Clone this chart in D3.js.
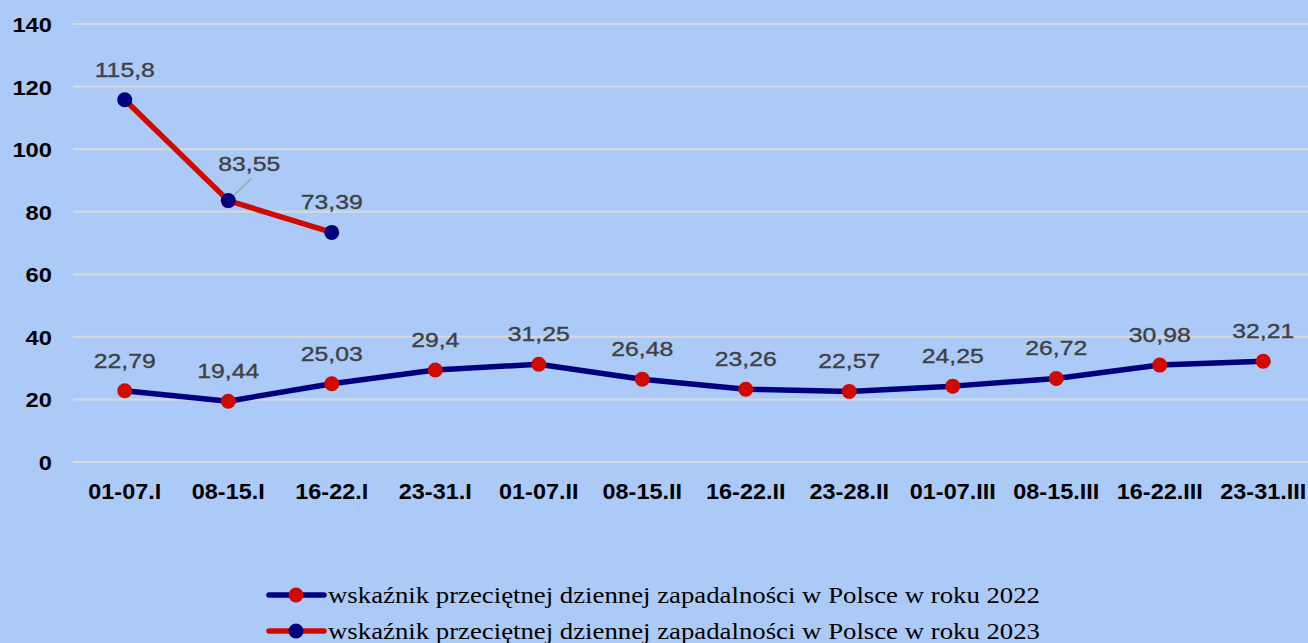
<!DOCTYPE html>
<html>
<head>
<meta charset="utf-8">
<script src="https://cdn.jsdelivr.net/npm/d3@7"></script>
<style>
  html, body { margin: 0; padding: 0; background: #abcaf7; }
  svg { display: block; }
</style>
</head>
<body>
<svg id="chart" width="1308" height="643"></svg>
<script>
// weeks of Q1
var weeks = ["01-07.I", "08-15.I", "16-22.I", "23-31.I", "01-07.II", "08-15.II",
             "16-22.II", "23-28.II", "01-07.III", "08-15.III", "16-22.III", "23-31.III"];
var rate2022 = [22.79, 19.44, 25.03, 29.4, 31.25, 26.48, 23.26, 22.57, 24.25, 26.72, 30.98, 32.21];
var rate2023 = [115.8, 83.55, 73.39];
var yTicks = [0, 20, 40, 60, 80, 100, 120, 140];
var legendNames = [
   "wskaźnik przeciętnej dziennej zapadalności w Polsce w roku 2022",
   "wskaźnik przeciętnej dziennej zapadalności w Polsce w roku 2023"
];

var navy = "#00007f", red = "#d10a00";

var svg = d3.select("#chart");

var x = d3.scaleBand().domain(weeks).range([73, 1315]);
var y = d3.scaleLinear().domain([0, 140]).range([462, 24]);
var cx = function(i) { return x(weeks[i]) + x.bandwidth() / 2; };

// gridlines
svg.append("g").selectAll("line")
   .data(yTicks)
   .join("line")
   .attr("x1", 73).attr("x2", 1308)
   .attr("y1", function(d) { return y(d); })
   .attr("y2", function(d) { return y(d); })
   .attr("stroke", "#d9d9d9")
   .attr("stroke-width", 2);

// y axis labels (no axis line)
var yAxis = svg.append("g").attr("transform", "translate(52,0)")
   .call(d3.axisLeft(y).tickValues(yTicks).tickSize(0).tickPadding(0));
yAxis.select(".domain").remove();
yAxis.selectAll("text")
   .attr("x", 0)
   .attr("font-family", "Liberation Sans, Arial, sans-serif")
   .attr("font-weight", "bold")
   .attr("font-size", 21)
   .attr("fill", "#000")
   .attr("dy", "0.36em")
   .attr("transform", "scale(1.13,1)");

// x axis labels
var xAxis = svg.append("g").attr("transform", "translate(0,484)")
   .call(d3.axisBottom(x).tickSize(0).tickPadding(0));
xAxis.select(".domain").remove();
xAxis.selectAll("text")
   .attr("x", 0)
   .attr("font-family", "Liberation Sans, Arial, sans-serif")
   .attr("font-weight", "bold")
   .attr("font-size", 21.5)
   .attr("fill", "#000")
   .attr("dy", "0.71em")
   .attr("transform", "scale(1.09,1)");

var line = d3.line()
   .x(function(d, i) { return cx(i); })
   .y(function(d) { return y(d); });

function drawSeries(vals, lineColor, dotColor) {
   svg.append("path")
      .datum(vals)
      .attr("d", line)
      .attr("fill", "none")
      .attr("stroke", lineColor)
      .attr("stroke-width", 5.5)
      .attr("stroke-linejoin", "round");
   svg.append("g").selectAll("circle")
      .data(vals)
      .join("circle")
      .attr("cx", function(d, i) { return cx(i); })
      .attr("cy", function(d) { return y(d); })
      .attr("r", 7.5)
      .attr("fill", dotColor);
}

drawSeries(rate2022, navy, red);

// leader line for 83,55 label
svg.append("line")
   .attr("x1", cx(1) + 2).attr("y1", y(rate2023[1]) - 2)
   .attr("x2", cx(1) + 23).attr("y2", y(rate2023[1]) - 22)
   .attr("stroke", "#a6a6a6")
   .attr("stroke-width", 1.5);

drawSeries(rate2023, red, navy);

function fmt(v) { return String(v).replace(".", ","); }

function labels(vals, offsets) {
   svg.append("g").selectAll("text")
      .data(vals)
      .join("text")
      .attr("transform", function(d, i) {
         var o = offsets ? offsets[i] : [0, 0];
         return "translate(" + (cx(i) + o[0]) + "," + (y(d) - 23 + o[1]) + ") scale(1.18,1)";
      })
      .attr("text-anchor", "middle")
      .attr("font-family", "Liberation Sans, Arial, sans-serif")
      .attr("font-size", 21)
      .attr("fill", "#404040")
      .attr("stroke", "#404040")
      .attr("stroke-width", 0.35)
      .text(fmt);
}

labels(rate2022);
labels(rate2023, [[0, 0], [21, -7], [0, 0]]);

// legend
var legend = svg.append("g");
var legendRows = [
   { name: legendNames[0], lineColor: navy, dotColor: red, y: 595 },
   { name: legendNames[1], lineColor: red, dotColor: navy, y: 631 }
];
legendRows.forEach(function(r) {
   legend.append("line")
      .attr("x1", 269).attr("x2", 324)
      .attr("y1", r.y).attr("y2", r.y)
      .attr("stroke", r.lineColor)
      .attr("stroke-width", 5.5)
      .attr("stroke-linecap", "round");
   legend.append("circle")
      .attr("cx", 296).attr("cy", r.y).attr("r", 7.5)
      .attr("fill", r.dotColor);
   legend.append("text")
      .attr("x", 328).attr("y", r.y + 8)
      .attr("font-family", "Liberation Serif, Times New Roman, serif")
      .attr("font-size", 24)
      .attr("fill", "#000")
      .attr("textLength", 712)
      .attr("lengthAdjust", "spacingAndGlyphs")
      .text(r.name);
});
</script>
</body>
</html>
